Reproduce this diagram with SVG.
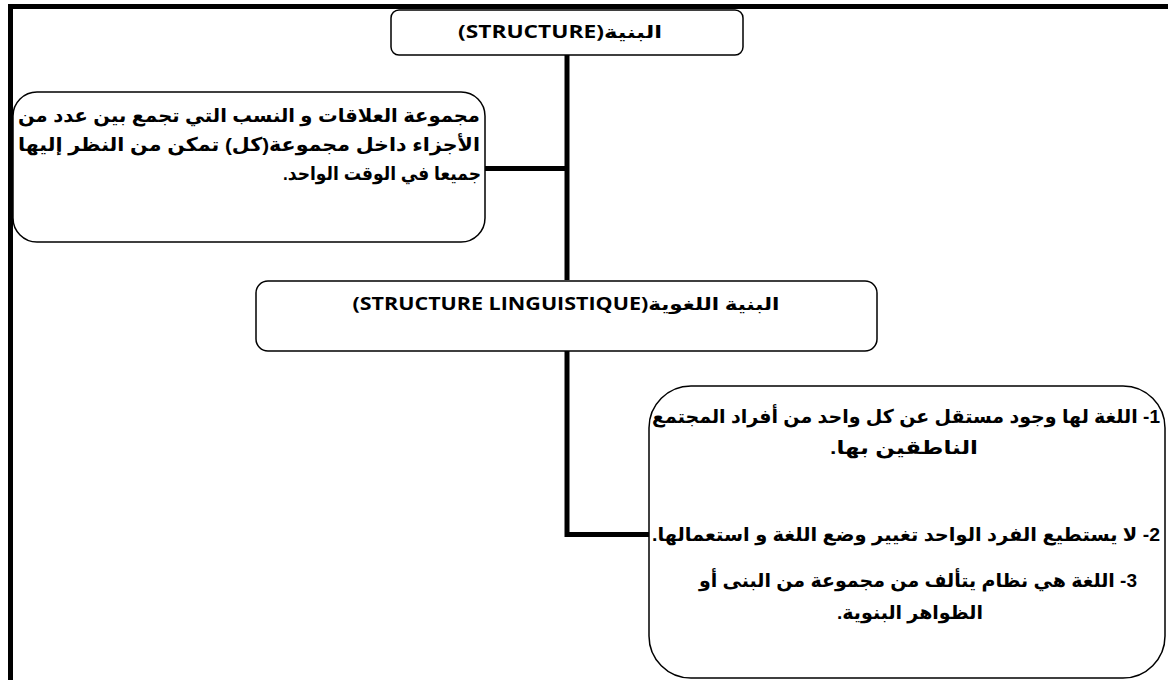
<svg xmlns="http://www.w3.org/2000/svg" width="1168" height="680" viewBox="0 0 1168 680">
<style>
.box{fill:#fff;stroke:#000;stroke-width:1.5}
.frame{stroke:#000;stroke-width:5;fill:none}
.conn{stroke:#000;stroke-width:5;fill:none}
.ar{font-family:"Liberation Sans","DejaVu Sans",sans-serif;font-weight:bold;font-size:19px;fill:#000;direction:rtl}
.lbl{font-family:"Open Sans","DejaVu Sans",sans-serif;font-weight:bold;font-size:17px;fill:#000;direction:rtl}
</style>
<rect width="1168" height="680" fill="#fff"/>
<g id="frame">
<path class="frame" d="M10.5 680 V6.5 H1168"/>
</g>
<g id="connectors">
<path class="conn" d="M567 55 V280"/>
<path class="conn" d="M567 351 V534.5 H649"/>
<path class="conn" d="M485 168.5 H567"/>
</g>
<g id="node-structure">
<rect class="box" x="391" y="10" width="352" height="45" rx="8"/>
<text class="lbl" x="560" y="38" text-anchor="middle" textLength="204" lengthAdjust="spacingAndGlyphs">البنية(STRUCTURE)</text>
</g>
<g id="node-definition">
<rect class="box" x="13" y="92" width="472" height="150" rx="24"/>
<text class="ar" x="249" y="122" text-anchor="middle" textLength="462" lengthAdjust="spacingAndGlyphs">مجموعة العلاقات و النسب التي تجمع بين عدد من</text>
<text class="ar" x="249" y="151" text-anchor="middle" textLength="462" lengthAdjust="spacingAndGlyphs">الأجزاء داخل مجموعة(كل) تمكن من النظر إليها</text>
<text class="ar" x="382" y="180" text-anchor="middle" textLength="198" lengthAdjust="spacingAndGlyphs">جميعا في الوقت الواحد.</text>
</g>
<g id="node-linguistic">
<rect class="box" x="256" y="281" width="621" height="70" rx="12"/>
<text class="lbl" x="566" y="310" text-anchor="middle" textLength="427" lengthAdjust="spacingAndGlyphs">البنية اللغوية(STRUCTURE LINGUISTIQUE)</text>
</g>
<g id="node-properties">
<rect class="box" x="649" y="386" width="516" height="292" rx="42"/>
<text class="ar" x="906" y="423" text-anchor="middle" textLength="508" lengthAdjust="spacingAndGlyphs">1- اللغة لها وجود مستقل عن كل واحد من أفراد المجتمع</text>
<text class="ar" x="904" y="454" text-anchor="middle" textLength="148" lengthAdjust="spacingAndGlyphs">الناطقين بها.</text>
<text class="ar" x="906" y="541" text-anchor="middle" textLength="508" lengthAdjust="spacingAndGlyphs">2- لا يستطيع الفرد الواحد تغيير وضع اللغة و استعمالها.</text>
<text class="ar" x="918" y="587" text-anchor="middle">3- اللغة هي نظام يتألف من مجموعة من البنى أو</text>
<text class="ar" x="910" y="619" text-anchor="middle">الظواهر البنوية.</text>
</g>
</svg>
